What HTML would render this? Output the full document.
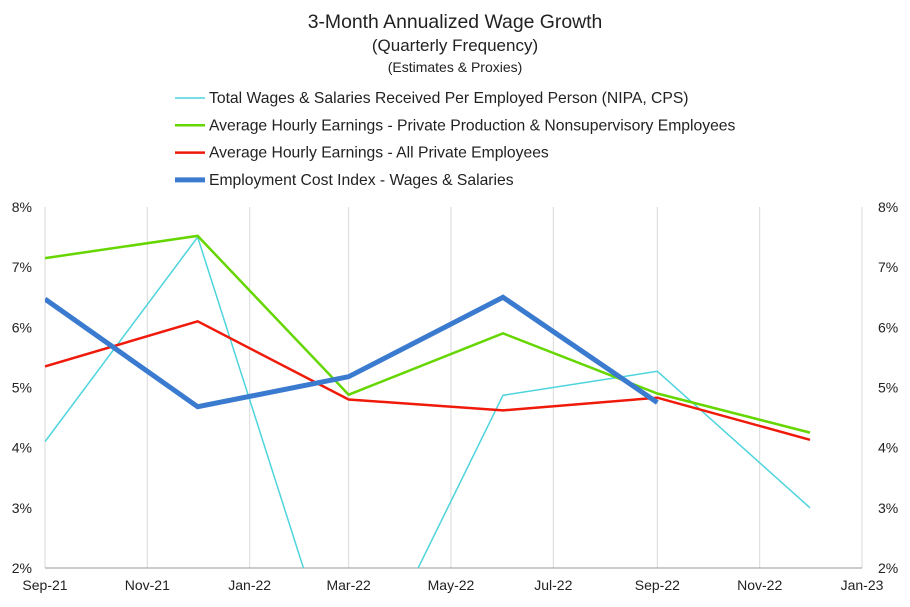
<!DOCTYPE html>
<html><head><meta charset="utf-8"><style>
html,body{margin:0;padding:0;background:#fff;overflow:hidden;width:910px;height:607px;}
svg{display:block;}
svg text{font-family:"Liberation Sans",sans-serif;fill:#222;}
</style></head><body>
<svg width="910" height="607">
<defs><clipPath id="plot"><rect x="45" y="207" width="817" height="361"/></clipPath></defs>
<text x="455" y="28" text-anchor="middle" font-size="19.4">3-Month Annualized Wage Growth</text>
<text x="455" y="51" text-anchor="middle" font-size="17">(Quarterly Frequency)</text>
<text x="455" y="72" text-anchor="middle" font-size="14">(Estimates &amp; Proxies)</text>
<g id="legend"></g>
<g id="grid"></g>
<g id="axes"></g>
<g id="series" clip-path="url(#plot)"></g>
</svg>
<script>
const dates=["2021-09-01","2021-12-01","2022-03-01","2022-06-01","2022-09-01","2022-12-01"];
const nipa=[4.1,7.5,-0.35,4.87,5.27,3.0];
const ahePnp=[7.15,7.52,4.88,5.9,4.9,4.25];
const aheAll=[5.35,6.1,4.8,4.62,4.83,4.13];
const eci=[6.47,4.68,5.18,6.5,4.75];
const yTicks=[2,3,4,5,6,7,8];
const xTicks=["2021-09-01","2021-11-01","2022-01-01","2022-03-01","2022-05-01","2022-07-01","2022-09-01","2022-11-01","2023-01-01"];
const xLabels=["Sep-21","Nov-21","Jan-22","Mar-22","May-22","Jul-22","Sep-22","Nov-22","Jan-23"];
const seriesNames=["Total Wages & Salaries Received Per Employed Person (NIPA, CPS)","Average Hourly Earnings - Private Production & Nonsupervisory Employees","Average Hourly Earnings - All Private Employees","Employment Cost Index - Wages & Salaries"];
const NS="http://www.w3.org/2000/svg";
const x0=Date.parse("2021-09-01"),x1=Date.parse("2023-01-01");
const X=d=>45+(Date.parse(d)-x0)/(x1-x0)*817;
const Y=v=>568-(v-2)/6*361;
function mk(tag,attrs,parent){const e=document.createElementNS(NS,tag);for(const k in attrs)e.setAttribute(k,attrs[k]);parent.appendChild(e);return e;}
const grid=document.getElementById('grid'),axes=document.getElementById('axes'),ser=document.getElementById('series'),leg=document.getElementById('legend');
xTicks.forEach((d,i)=>{
 const l=mk('line',{x1:X(d),x2:X(d),y1:207,y2:568,stroke:'#d9d9d9','stroke-width':1},grid);
 
 
 const t=mk('text',{x:X(d),y:590,'text-anchor':'middle','font-size':14},axes);
 t.textContent=xLabels[i];
 
 
});
yTicks.forEach(v=>{
 const a=mk('text',{x:32,y:Y(v)+5,'text-anchor':'end','font-size':14},axes);a.textContent=v+'%';
 
 
 const b=mk('text',{x:878,y:Y(v)+5,'font-size':14},axes);b.textContent=v+'%';
 
 
});
const xa=mk('line',{x1:45,x2:862,y1:568,y2:568,stroke:'#999'},axes);


const defs=[[nipa,'#4dd4dc',1.5,'nipa-line'],[ahePnp,'#66d600',2.5,'ahe-pnp-line'],[aheAll,'#f01a0a',2.5,'ahe-all-line'],[eci,'#3a7bd0',5,'eci-line']];
defs.forEach((s,i)=>{
 const pts=s[0].map((v,j)=>X(dates[j])+','+Y(v)).join(' ');
 const p=mk('polyline',{points:pts,fill:'none',stroke:s[1],'stroke-width':s[2],'stroke-linejoin':'miter'},ser);
 
 
 const ly=98+i*27.3;
 const ll=mk('line',{x1:175,x2:205,y1:ly,y2:ly,stroke:s[1],'stroke-width':s[2]},leg);
 
 
 const lt=mk('text',{x:209,y:ly+5,'font-size':15.7},leg);lt.textContent=seriesNames[i];
 
 
});
</script>
</body></html>
